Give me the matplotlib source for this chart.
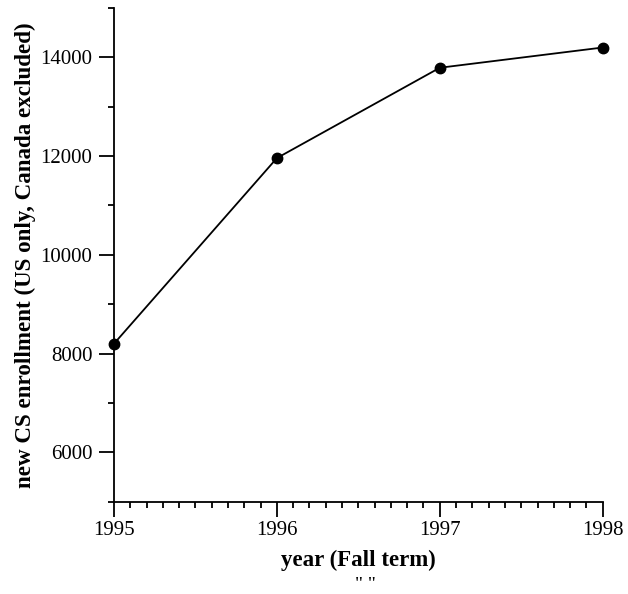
#!/usr/bin/env python3
"""
New CS enrollment by year (Fall term)
"""

import matplotlib.pyplot as plt
from matplotlib.ticker import MultipleLocator

# Data
years = [1995, 1996, 1997, 1998]
enrollment = [8200, 11960, 13790, 14200]

plt.rcParams['font.family'] = ['Liberation Serif', 'DejaVu Serif']

fig = plt.figure(figsize=(6.28, 5.94), dpi=100)
ax = fig.add_axes([0.1815, 0.1554, 0.7782, 0.8311])

ax.plot(years, enrollment, 'k-', linewidth=1.3, marker='o', markersize=7.5,
        clip_on=False, zorder=3)

ax.set_xlim(1995, 1998)
ax.set_ylim(5000, 15000)

# Only left and bottom axes
ax.spines['top'].set_visible(False)
ax.spines['right'].set_visible(False)
ax.spines['left'].set_linewidth(1.3)
ax.spines['bottom'].set_linewidth(1.3)

ax.xaxis.set_major_locator(MultipleLocator(1))
ax.xaxis.set_minor_locator(MultipleLocator(0.1))
ax.yaxis.set_minor_locator(MultipleLocator(1000))
ax.set_yticks([6000, 8000, 10000, 12000, 14000])

ax.tick_params(which='major', direction='out', length=11, width=1.3,
               labelsize=15, pad=4.5)
ax.tick_params(axis='x', which='major', pad=3)
ax.tick_params(which='minor', direction='out', length=4.5, width=1.3)

ax.set_xlabel('year (Fall term)', fontsize=16.5, fontweight='bold', labelpad=7)
ax.set_ylabel('new CS enrollment (US only, Canada excluded)', fontsize=16.6,
              fontweight='bold', labelpad=3)

fig.text(0.582, 1 - 585 / 594, '" "', fontsize=14, ha='center', va='center')

plt.savefig('out.png', dpi=100)
